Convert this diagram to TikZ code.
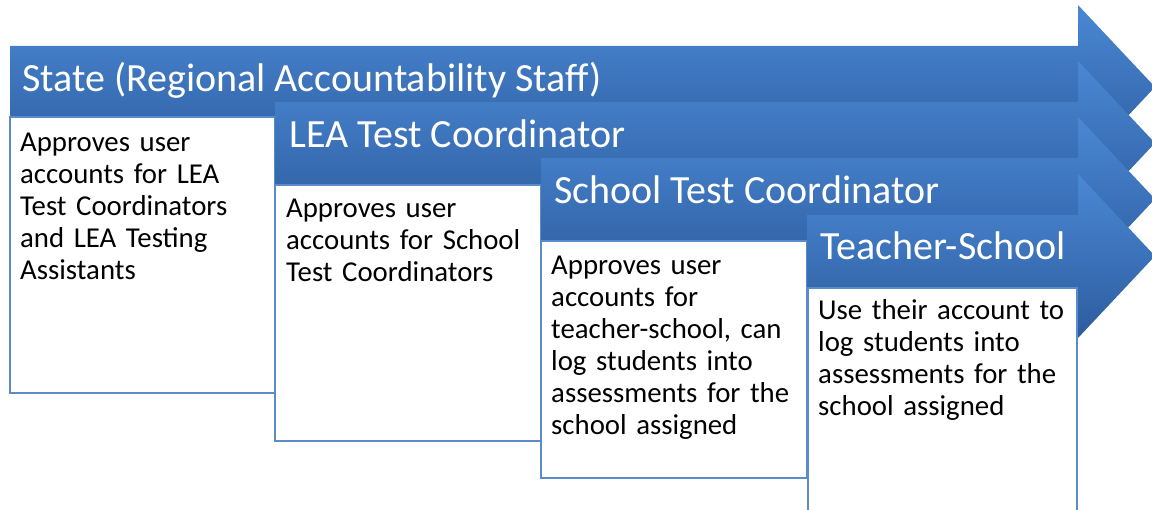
\documentclass[tikz,border=0pt]{standalone}
\usepackage{fontspec}
\setmainfont{Carlito}
\usepackage{tikz}
\usetikzlibrary{positioning}

\definecolor{arrtop}{HTML}{4A88D4}
\definecolor{arrbot}{HTML}{2D5C9E}
\definecolor{boxline}{HTML}{5B8BC9}

\begin{document}
\begin{tikzpicture}[x=1pt,y=-1pt]
    \tikzstyle{arr} = [draw=none, top color=arrtop, bottom color=arrbot]
    \tikzstyle{sbox} = [draw=boxline, line width=2pt, fill=white]
    \tikzstyle{hnode} = [anchor=base west, inner sep=0pt, text=white, font=\fontsize{40}{44}\selectfont]
    \tikzstyle{tnode} = [anchor=base west, inner sep=0pt, text width=250pt, align=left, font=\fontsize{28.8}{32}\selectfont]
    \useasboundingbox (0,0) rectangle (1152,510);
    \clip (0,0) rectangle (1152,510);
    % step 1: state
    \path[arr] (10,46) -- (1078,46) -- (1078,5) -- (1155,87) -- (1078,169) -- (1078,128) -- (10,128) -- cycle;
    \draw[sbox] (10,117) rectangle (275,393);
    \node[hnode] (h1) at (22,92) {State (Regional Accountability Staff)};
    \node[tnode] (d1) at (20,152) {Approves user\\accounts for LEA\\Test Coordinators\\and LEA Testing\\Assistants};
    % step 2: LEA
    \path[arr] (275,102) -- (1078,102) -- (1078,61) -- (1155,143) -- (1078,225) -- (1078,184) -- (275,184) -- cycle;
    \draw[sbox] (275,185) rectangle (541,441);
    \node[hnode] (h2) at (289,148) {LEA Test Coordinator};
    \node[tnode] (d2) at (286,218) {Approves user\\accounts for School\\Test Coordinators};
    % step 3: school
    \path[arr] (541,158) -- (1078,158) -- (1078,117) -- (1155,199) -- (1078,281) -- (1078,240) -- (541,240) -- cycle;
    \draw[sbox] (541,241) rectangle (807,478);
    \node[hnode] (h3) at (554,204) {School Test Coordinator};
    \node[tnode] (d3) at (551,275) {Approves user\\accounts for\\teacher-school, can\\log students into\\assessments for the\\school assigned};
    % step 4: teacher
    \path[arr] (807,215) -- (1078,215) -- (1078,174) -- (1155,256) -- (1078,338) -- (1078,297) -- (807,297) -- cycle;
    \draw[sbox] (808,288) rectangle (1077,530);
    \node[hnode] (h4) at (820,260) {Teacher-School};
    \node[tnode] (d4) at (818,320) {Use their account to\\log students into\\assessments for the\\school assigned};
  \end{tikzpicture}
\end{document}
